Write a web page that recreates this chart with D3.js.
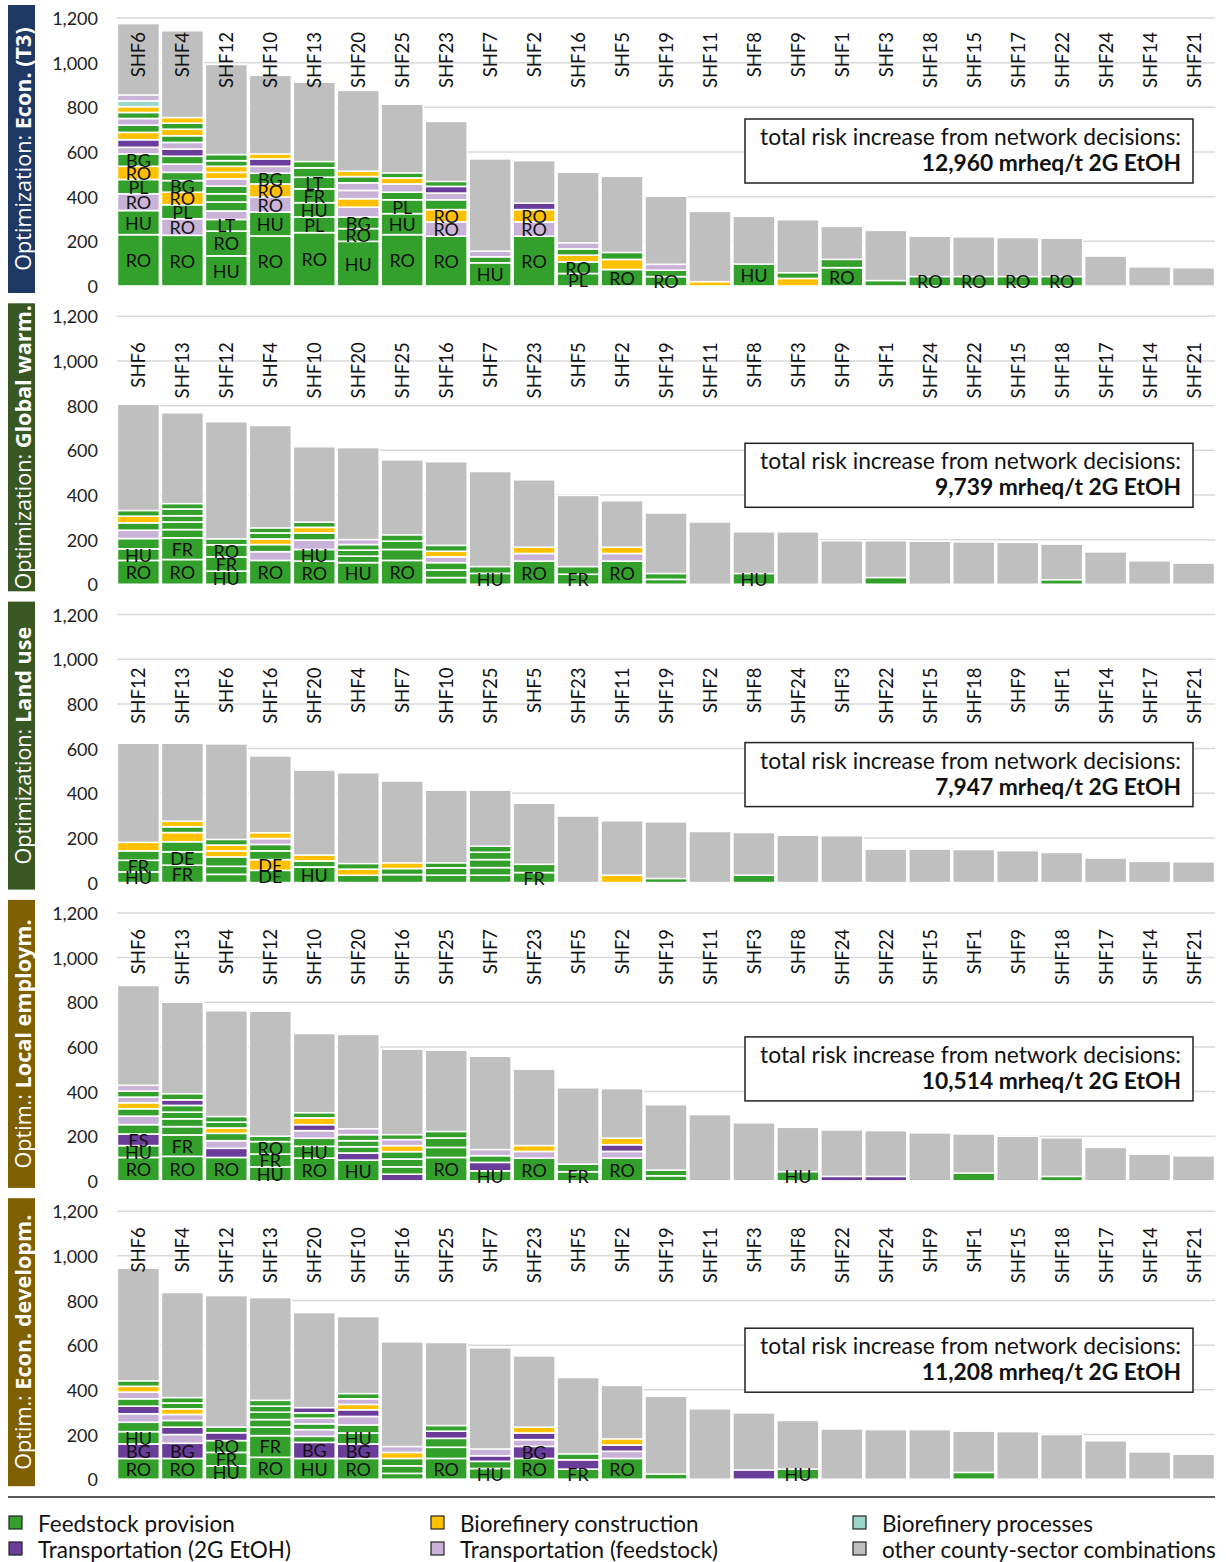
<!DOCTYPE html>
<html>
<head>
<meta charset="utf-8">
<script src="https://cdn.jsdelivr.net/npm/d3@7"></script>
<style>
  body { margin: 0; background: #fff; }
  svg { font-family: Lato, "Open Sans", sans-serif; }
</style>
</head>
<body>
<svg id="chart" width="1226" height="1562"></svg>
<script>
// segment types: F feedstock, C biorefinery construction, P biorefinery processes,
// T transportation (2G EtOH), S transportation (feedstock); rest of each bar = other (gray)

var econOrder = ["SHF6","SHF4","SHF12","SHF10","SHF13","SHF20","SHF25","SHF23","SHF7","SHF2","SHF16","SHF5","SHF19","SHF11","SHF8","SHF9","SHF1","SHF3","SHF18","SHF15","SHF17","SHF22","SHF24","SHF14","SHF21"];
var econTotals = [1175,1143,992,943,913,876,814,737,569,561,509,491,402,334,312,297,267,249,223,220,217,214,134,86,82];
var econParts = [
  [["F",230,"RO"],["F",108,"HU"],["S",75,"RO"],["F",64,"PL"],["C",59,"RO"],["F",55,"BG"],["S",30],["T",34],["C",33],["F",32],["S",30],["F",27],["C",26],["P",26],["S",26]],
  [["F",227,"RO"],["S",74,"RO"],["F",63,"PL"],["C",56,"RO"],["F",52,"BG"],["F",37],["S",37],["F",35],["T",32],["S",30],["F",30],["C",29],["F",27],["C",25]],
  [["F",135,"HU"],["F",111,"RO"],["F",52,"LT"],["S",38],["F",40],["F",37],["F",34],["S",33],["C",29],["C",27],["F",25],["F",27]],
  [["F",224,"RO"],["F",107,"HU"],["S",67,"RO"],["C",59,"RO"],["F",48,"BG"],["S",31],["T",33],["C",22]],
  [["F",239,"RO"],["F",70,"PL"],["F",64,"HU"],["F",62,"FR"],["F",52,"LT"],["F",42],["F",28]],
  [["F",200,"HU"],["F",57,"RO"],["F",52,"BG"],["S",44],["C",38],["S",37],["S",34],["F",28],["C",24]],
  [["F",230,"RO"],["F",94,"HU"],["F",62,"PL"],["F",34],["S",37],["C",27],["F",22]],
  [["F",223,"RO"],["S",64,"RO"],["C",55,"RO"],["F",44],["S",30],["T",30],["F",22]],
  [["F",104,"HU"],["F",27],["S",25]],
  [["F",223,"RO"],["S",64,"RO"],["C",55,"RO"],["T",29]],
  [["F",56,"PL"],["F",52,"RO"],["C",30],["F",28],["S",27]],
  [["F",74,"RO"],["C",45],["F",31]],
  [["F",42,"RO"],["F",29],["S",26]],
  [["C",19]],
  [["F",98,"HU"]],
  [["C",34],["F",25]],
  [["F",82,"RO"],["F",37]],
  [["F",24]],
  [["F",42,"RO"]],
  [["F",42,"RO"]],
  [["F",42,"RO"]],
  [["F",42,"RO"]],
  [], [], []
];

var warmOrder = ["SHF6","SHF13","SHF12","SHF4","SHF10","SHF20","SHF25","SHF16","SHF7","SHF23","SHF5","SHF2","SHF19","SHF11","SHF8","SHF3","SHF9","SHF1","SHF24","SHF22","SHF15","SHF18","SHF17","SHF14","SHF21"];
var warmTotals = [806,768,728,711,616,612,557,549,505,468,398,374,319,279,235,235,195,195,193,190,188,180,145,105,95];
var warmParts = [
  [["F",107,"RO"],["F",52,"HU"],["F",46],["S",37],["F",33],["C",30],["F",25]],
  [["F",111,"RO"],["F",97,"FR"],["F",37],["F",34],["F",28],["F",30],["F",24]],
  [["F",59,"HU"],["F",64,"FR"],["F",54,"RO"],["F",26]],
  [["F",107,"RO"],["S",39],["F",32],["C",25],["F",27],["F",22]],
  [["F",104,"RO"],["F",52,"HU"],["S",42],["F",32],["C",25],["F",23]],
  [["F",97,"HU"],["F",29],["F",27],["F",25],["S",22]],
  [["F",107,"RO"],["F",49],["F",37],["F",28]],
  [["F",30],["F",34],["F",33],["S",26],["C",25],["F",26]],
  [["F",49,"HU"],["F",30]],
  [["F",104,"RO"],["S",34],["C",28]],
  [["F",45,"FR"],["F",34]],
  [["F",104,"RO"],["S",34],["C",28]],
  [["F",22],["F",26]],
  [],
  [["F",48,"HU"]],
  [], [],
  [["F",30]],
  [], [], [],
  [["F",20]],
  [], [], []
];

var landOrder = ["SHF12","SHF13","SHF6","SHF16","SHF20","SHF4","SHF7","SHF10","SHF25","SHF5","SHF23","SHF11","SHF19","SHF2","SHF8","SHF24","SHF3","SHF22","SHF15","SHF18","SHF9","SHF1","SHF14","SHF17","SHF21"];
var landTotals = [624,624,621,567,504,492,455,414,414,355,298,277,272,229,224,212,210,150,150,148,143,135,110,95,93];
var landParts = [
  [["F",48,"HU"],["F",52,"FR"],["F",42],["C",38]],
  [["F",78,"FR"],["F",60,"DE"],["F",45],["C",41],["F",26],["C",25]],
  [["F",37],["F",36],["F",42],["C",27],["C",26],["F",25]],
  [["F",55,"DE"],["C",48,"DE"],["F",39],["F",29],["S",26],["C",26]],
  [["F",70,"HU"],["F",27],["C",26]],
  [["F",33],["C",27],["F",25]],
  [["F",36],["F",27],["C",25]],
  [["F",33],["F",33],["F",22]],
  [["F",33],["F",34],["F",36],["F",33],["F",27]],
  [["F",45,"FR"],["F",37]],
  [],
  [["C",33]],
  [["F",18]],
  [],
  [["F",33]],
  [], [], [], [], [], [], [], [], [], []
];

var emplOrder = ["SHF6","SHF13","SHF4","SHF12","SHF10","SHF20","SHF16","SHF25","SHF7","SHF23","SHF5","SHF2","SHF19","SHF11","SHF3","SHF8","SHF24","SHF22","SHF15","SHF1","SHF9","SHF18","SHF17","SHF14","SHF21"];
var emplTotals = [875,800,762,760,660,656,590,585,558,500,417,413,341,297,260,240,228,225,215,210,200,193,150,120,112];
var emplParts = [
  [["F",105,"RO"],["F",53,"HU"],["T",52,"ES"],["F",42],["S",38],["F",33],["C",27],["S",25],["F",27],["S",26]],
  [["F",110,"RO"],["F",96,"FR"],["F",37],["F",35],["F",30],["F",30],["T",25],["F",27]],
  [["F",105,"RO"],["T",41],["S",34],["F",33],["C",24],["F",26],["F",25]],
  [["F",63,"HU"],["F",57,"FR"],["F",56,"RO"],["F",24]],
  [["F",102,"RO"],["F",53,"HU"],["F",36],["S",34],["T",27],["C",30],["F",23]],
  [["F",93,"HU"],["T",32],["F",28],["F",27],["F",27],["S",26]],
  [["T",30],["F",33],["F",35],["F",33],["C",27],["S",27],["F",22]],
  [["F",105,"RO"],["F",45],["F",42],["F",29]],
  [["F",45,"HU"],["T",38],["F",30],["S",27]],
  [["F",102,"RO"],["S",30],["C",26]],
  [["F",41,"FR"],["F",34]],
  [["F",102,"RO"],["S",30],["T",30],["C",29]],
  [["F",23],["F",25]],
  [], [],
  [["F",41,"HU"]],
  [["T",20]],
  [["T",20]],
  [],
  [["F",35]],
  [],
  [["F",20]],
  [], [], []
];

var devOrder = ["SHF6","SHF4","SHF12","SHF13","SHF20","SHF10","SHF16","SHF25","SHF7","SHF23","SHF5","SHF2","SHF19","SHF11","SHF3","SHF8","SHF22","SHF24","SHF9","SHF1","SHF15","SHF18","SHF17","SHF14","SHF21"];
var devTotals = [945,836,822,813,746,728,615,612,588,552,455,420,371,315,297,263,225,222,222,215,213,200,172,122,112];
var devParts = [
  [["F",93,"RO"],["T",65,"BG"],["F",55,"HU"],["F",42],["S",38],["T",34],["F",33],["S",30],["C",26],["F",24]],
  [["F",93,"RO"],["T",68,"BG"],["S",39],["T",33],["F",30],["S",27],["C",25],["F",26],["F",24]],
  [["F",60,"HU"],["F",60,"FR"],["F",53,"RO"],["T",35],["F",25]],
  [["F",98,"RO"],["F",97,"FR"],["F",38],["F",34],["F",33],["F",27],["F",26]],
  [["F",93,"HU"],["T",72,"BG"],["F",27],["S",30],["F",26],["S",25],["F",24],["T",23]],
  [["F",93,"RO"],["T",65,"BG"],["F",49,"HU"],["F",36],["S",38],["T",30],["C",24],["S",25],["F",23]],
  [["F",26],["F",34],["F",33],["C",27],["S",26]],
  [["F",93,"RO"],["F",50],["F",40],["T",32],["F",25]],
  [["F",48,"HU"],["F",32],["T",25],["S",30]],
  [["F",93,"RO"],["T",54,"BG"],["S",30],["T",30],["C",26]],
  [["F",45,"FR"],["T",42],["F",26]],
  [["F",93,"RO"],["S",32],["T",28],["C",27]],
  [["F",23]],
  [],
  [["T",41]],
  [["F",45,"HU"]],
  [], [], [],
  [["F",30]],
  [], [], [], [], []
];

var yTicks = [0, 200, 400, 600, 800, 1000, 1200];

var legendKeys = ["F","C","P","T","S","O"];
var legendNames = {
  F: "Feedstock provision",
  C: "Biorefinery construction",
  P: "Biorefinery processes",
  T: "Transportation (2G EtOH)",
  S: "Transportation (feedstock)",
  O: "other county-sector combinations"
};
var colors = { F: "#33a02c", C: "#ffc000", P: "#99d8c9", T: "#6a3d9a", S: "#c9b2d7", O: "#bfbfbf" };

var panels = [
  { pre: "Optimization: ", name: "Econ. (T3)", band: "#1f3864", order: econOrder, totals: econTotals, parts: econParts, sum: "12,960", labelTop: 27, boxTop: 114 },
  { pre: "Optimization: ", name: "Global warm.", band: "#385723", order: warmOrder, totals: warmTotals, parts: warmParts, sum: "9,739", labelTop: 39, boxTop: 140 },
  { pre: "Optimization: ", name: "Land use", band: "#385723", order: landOrder, totals: landTotals, parts: landParts, sum: "7,947", labelTop: 66, boxTop: 141 },
  { pre: "Optim.: ", name: "Local employm.", band: "#7f6000", order: emplOrder, totals: emplTotals, parts: emplParts, sum: "10,514", labelTop: 29, boxTop: 137 },
  { pre: "Optim.: ", name: "Econ. developm.", band: "#7f6000", order: devOrder, totals: devTotals, parts: devParts, sum: "11,208", labelTop: 29, boxTop: 130 }
];

var svg = d3.select("#chart");
var left = 117, right = 1215, panelH = 298.3;

panels.forEach(function(p, k) {
  var g = svg.append("g").attr("transform", "translate(0," + (5 + k * panelH) + ")");
  var y = d3.scaleLinear().domain([0, 1200]).range([281, 13]);
  var x = d3.scaleBand().domain(p.order).range([left, right]).paddingInner(0.045).paddingOuter(0.01);

  // side band
  g.append("rect").attr("x", 8).attr("y", 0).attr("width", 27).attr("height", 288).attr("fill", p.band);
  var side = g.append("text")
    .attr("transform", "translate(22," + 144 + ")rotate(-90)")
    .attr("text-anchor", "middle").attr("dominant-baseline", "central")
    .attr("fill", "#fff").style("font-family", "'Open Sans', sans-serif").style("font-size", "21.6px");
  side.append("tspan").text(p.pre);
  side.append("tspan").attr("font-weight", "bold").text(p.name);

  // grid + ticks
  g.selectAll(".grid").data(yTicks.filter(function(d) { return d > 0; })).enter().append("line")
    .attr("x1", left).attr("x2", right)
    .attr("y1", function(d) { return y(d); }).attr("y2", function(d) { return y(d); })
    .attr("stroke", "#d9d9d9").attr("stroke-width", 1.5);
  g.selectAll(".tick").data(yTicks).enter().append("text")
    .attr("x", 98).attr("y", function(d) { return y(d); })
    .attr("text-anchor", "end").attr("dominant-baseline", "central")
    .attr("fill", "#222").style("font-size", "18px")
    .text(d3.format(","));

  // gray full bars
  g.selectAll(".tot").data(p.order).enter().append("rect")
    .attr("x", function(d) { return x(d); })
    .attr("width", x.bandwidth())
    .attr("y", function(d, i) { return y(p.totals[i]); })
    .attr("height", function(d, i) { return y(0) - y(p.totals[i]); })
    .attr("fill", colors.O).attr("stroke", "#fff").attr("stroke-width", 1.5);

  // stacked segments
  var segs = [];
  p.order.forEach(function(c, i) {
    var base = 0;
    p.parts[i].forEach(function(s) {
      segs.push({ cat: c, type: s[0], v0: base, v1: base + s[1], label: s[2] });
      base += s[1];
    });
  });
  g.selectAll(".seg").data(segs).enter().append("rect")
    .attr("x", function(d) { return x(d.cat); })
    .attr("width", x.bandwidth())
    .attr("y", function(d) { return y(d.v1); })
    .attr("height", function(d) { return y(d.v0) - y(d.v1); })
    .attr("fill", function(d) { return colors[d.type]; })
    .attr("stroke", "#fff").attr("stroke-width", 1.6);
  g.selectAll(".segl").data(segs.filter(function(d) { return d.label; })).enter().append("text")
    .attr("x", function(d) { return x(d.cat) + x.bandwidth() / 2; })
    .attr("y", function(d) { return y((d.v0 + d.v1) / 2); })
    .attr("text-anchor", "middle").attr("dominant-baseline", "central")
    .attr("fill", "#111").style("font-size", "18px")
    .text(function(d) { return d.label; });

  // category labels, on top of the bars
  g.selectAll(".cat").data(p.order).enter().append("text")
    .attr("transform", function(d) {
      return "translate(" + (x(d) + x.bandwidth() / 2) + "," + p.labelTop + ")rotate(-90)";
    })
    .attr("text-anchor", "end").attr("dominant-baseline", "central")
    .attr("fill", "#111").style("font-size", "18.5px")
    .text(function(d) { return d; });

  // total box
  var bx = 745, bw = 448, by = p.boxTop;
  g.append("rect").attr("x", bx).attr("y", by).attr("width", bw).attr("height", 64)
    .attr("fill", "#fff").attr("stroke", "#222").attr("stroke-width", 1.5);
  g.append("text").attr("x", bx + bw - 12).attr("y", by + 26)
    .attr("text-anchor", "end").attr("fill", "#111").style("font-size", "22.8px")
    .text("total risk increase from network decisions:");
  g.append("text").attr("x", bx + bw - 12).attr("y", by + 52)
    .attr("text-anchor", "end").attr("fill", "#111").attr("font-weight", "bold").style("font-size", "22.8px")
    .text(p.sum + " mrheq/t 2G EtOH");
});

// legend
svg.append("line").attr("x1", 8).attr("x2", 1215).attr("y1", 1497).attr("y2", 1497)
  .attr("stroke", "#222").attr("stroke-width", 1.5);
var leg = svg.selectAll(".leg").data(legendKeys).enter().append("g")
  .attr("transform", function(d, i) {
    return "translate(" + (9 + (i % 3) * 422) + "," + (1522 + Math.floor(i / 3) * 26) + ")";
  });
leg.append("rect").attr("x", 0).attr("y", -6).attr("width", 13).attr("height", 13)
  .attr("fill", function(d) { return colors[d]; }).attr("stroke", "#222").attr("stroke-width", 1.2);
leg.append("text").attr("x", 29).attr("y", 1).attr("dominant-baseline", "central")
  .attr("fill", "#111").style("font-size", "22.5px")
  .text(function(d) { return legendNames[d]; });
</script>
</body>
</html>
